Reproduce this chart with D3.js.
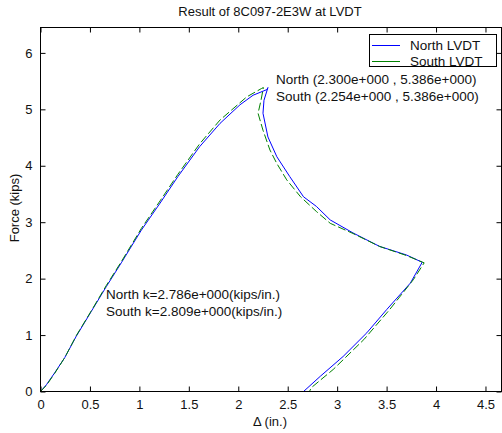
<!DOCTYPE html>
<html>
<head>
<meta charset="utf-8">
<script src="https://cdn.jsdelivr.net/npm/d3@7"></script>
<style>
  html, body { margin: 0; padding: 0; background: #fff; }
  svg { display: block; }
  text { font-family: "Liberation Sans", Arial, sans-serif; fill: #111; }
</style>
</head>
<body>
<svg id="chart" width="502" height="433"></svg>
<script>
// ---- data ----
const northX = [0, 0.06, 0.143, 0.245, 0.362, 0.514, 0.666, 0.817, 1.02, 1.21, 1.39, 1.61, 1.815, 2.017, 2.15, 2.29, 2.30, 2.26, 2.25, 2.30, 2.39, 2.52, 2.66, 2.79, 2.93, 3.16, 3.43, 3.70, 3.86, 3.74, 3.50, 3.30, 3.06, 2.83, 2.66];
const northY = [0, 0.12, 0.33, 0.60, 0.98, 1.42, 1.86, 2.28, 2.86, 3.34, 3.81, 4.34, 4.75, 5.08, 5.25, 5.35, 5.386, 5.16, 4.93, 4.51, 4.16, 3.81, 3.45, 3.28, 3.04, 2.81, 2.57, 2.42, 2.29, 1.92, 1.45, 1.04, 0.62, 0.27, 0];
const southX = [0, 0.06, 0.143, 0.245, 0.362, 0.514, 0.666, 0.817, 1.02, 1.21, 1.39, 1.61, 1.815, 2.085, 2.236, 2.254, 2.23, 2.20, 2.25, 2.32, 2.39, 2.49, 2.63, 2.79, 2.93, 3.16, 3.43, 3.70, 3.88, 3.77, 3.53, 3.27, 2.96, 2.74, 2.72];
const southY = [0, 0.11, 0.32, 0.60, 0.99, 1.43, 1.88, 2.30, 2.89, 3.38, 3.85, 4.39, 4.81, 5.22, 5.37, 5.386, 5.16, 4.93, 4.63, 4.28, 4.04, 3.75, 3.45, 3.19, 2.98, 2.80, 2.57, 2.41, 2.28, 1.98, 1.45, 0.92, 0.39, 0.07, 0];
const xTicks = [0, 0.5, 1, 1.5, 2, 2.5, 3, 3.5, 4, 4.5];
const yTicks = [0, 1, 2, 3, 4, 5, 6];
const seriesNames = ["North LVDT", "South LVDT"];
const peakLabels = ["North (2.300e+000 , 5.386e+000)", "South (2.254e+000 , 5.386e+000)"];
const stiffLabels = ["North k=2.786e+000(kips/in.)", "South k=2.809e+000(kips/in.)"];
const titleText = "Result of 8C097-2E3W at LVDT";
const xLabel = "\u0394 (in.)";
const yLabel = "Force (kips)";

// ---- layout ----
const L = 40.5, R = 501.5, T = 27.5, B = 391.5;
const x = d3.scaleLinear().domain([0, 4.662]).range([L, R]);
const y = d3.scaleLinear().domain([0, 6.45]).range([B, T]);

const svg = d3.select("#chart");
const fs = 13;
const fsA = 13.5;

// title
svg.append("text").attr("x", 270).attr("y", 16).attr("text-anchor", "middle")
  .attr("font-size", fs).text(titleText);

// clip
svg.append("clipPath").attr("id", "clip").append("rect")
  .attr("x", L).attr("y", T).attr("width", R - L).attr("height", B - T);

// lines
const line = d3.line().x(d => x(d[0])).y(d => y(d[1]));
const northPts = northX.map((v, i) => [v, northY[i]]);
const southPts = southX.map((v, i) => [v, southY[i]]);
const plot = svg.append("g").attr("clip-path", "url(#clip)");
plot.append("path").datum(northPts).attr("d", line)
  .attr("fill", "none").attr("stroke", "#0000ff").attr("stroke-width", 1);
plot.append("path").datum(southPts).attr("d", line)
  .attr("fill", "none").attr("stroke", "#008000").attr("stroke-width", 1)
  .attr("stroke-dasharray", "8,3");

// axes (ticks inward)
const gx = svg.append("g").attr("transform", `translate(0,${B})`)
  .call(d3.axisBottom(x).tickValues(xTicks).tickSizeInner(-5).tickSizeOuter(0).tickPadding(8).tickFormat(d3.format("")));
const gxTop = svg.append("g").attr("transform", `translate(0,${T})`)
  .call(d3.axisTop(x).tickValues(xTicks).tickSizeInner(-5).tickSizeOuter(0).tickFormat(""));
const gy = svg.append("g").attr("transform", `translate(${L},0)`)
  .call(d3.axisLeft(y).tickValues(yTicks).tickSizeInner(-5).tickSizeOuter(0).tickPadding(8).tickFormat(d3.format("")));
const gyR = svg.append("g").attr("transform", `translate(${R},0)`)
  .call(d3.axisRight(y).tickValues(yTicks).tickSizeInner(-5).tickSizeOuter(0).tickFormat(""));
[gx, gxTop, gy, gyR].forEach(g => {
  g.select(".domain").remove();
  g.selectAll("line").attr("stroke", "#000");
  g.selectAll("text").attr("font-size", fs).attr("font-family", "Liberation Sans, Arial, sans-serif").attr("fill", "#111");
});
gx.selectAll("text").attr("dy", "0.71em");

// frame
svg.append("rect").attr("x", L).attr("y", T).attr("width", R - L).attr("height", B - T)
  .attr("fill", "none").attr("stroke", "#000").attr("stroke-width", 1);

// axis labels
svg.append("text").attr("x", 270).attr("y", 426).attr("text-anchor", "middle")
  .attr("font-size", fs).text(xLabel);
svg.append("text").attr("transform", "translate(19,208) rotate(-90)").attr("text-anchor", "middle")
  .attr("font-size", fs).text(yLabel);

// annotations
svg.append("text").attr("x", 276).attr("y", 84).attr("font-size", fsA).text(peakLabels[0]);
svg.append("text").attr("x", 276).attr("y", 101).attr("font-size", fsA).text(peakLabels[1]);
svg.append("text").attr("x", 106).attr("y", 299).attr("font-size", fsA).text(stiffLabels[0]);
svg.append("text").attr("x", 106).attr("y", 316).attr("font-size", fsA).text(stiffLabels[1]);

// legend
const lg = svg.append("g");
lg.append("rect").attr("x", 369.5).attr("y", 34.5).attr("width", 127).attr("height", 32)
  .attr("fill", "#fff").attr("stroke", "#000");
const colors = ["#0000ff", "#008000"];
seriesNames.forEach((n, i) => {
  const cy = 45.5 + i * 16;
  lg.append("line").attr("x1", 372).attr("x2", 400).attr("y1", cy).attr("y2", cy)
    .attr("stroke", colors[i]).attr("stroke-width", 1);
  lg.append("text").attr("x", 410).attr("y", cy + 4.5).attr("font-size", fsA).text(n);
});
</script>
</body>
</html>
